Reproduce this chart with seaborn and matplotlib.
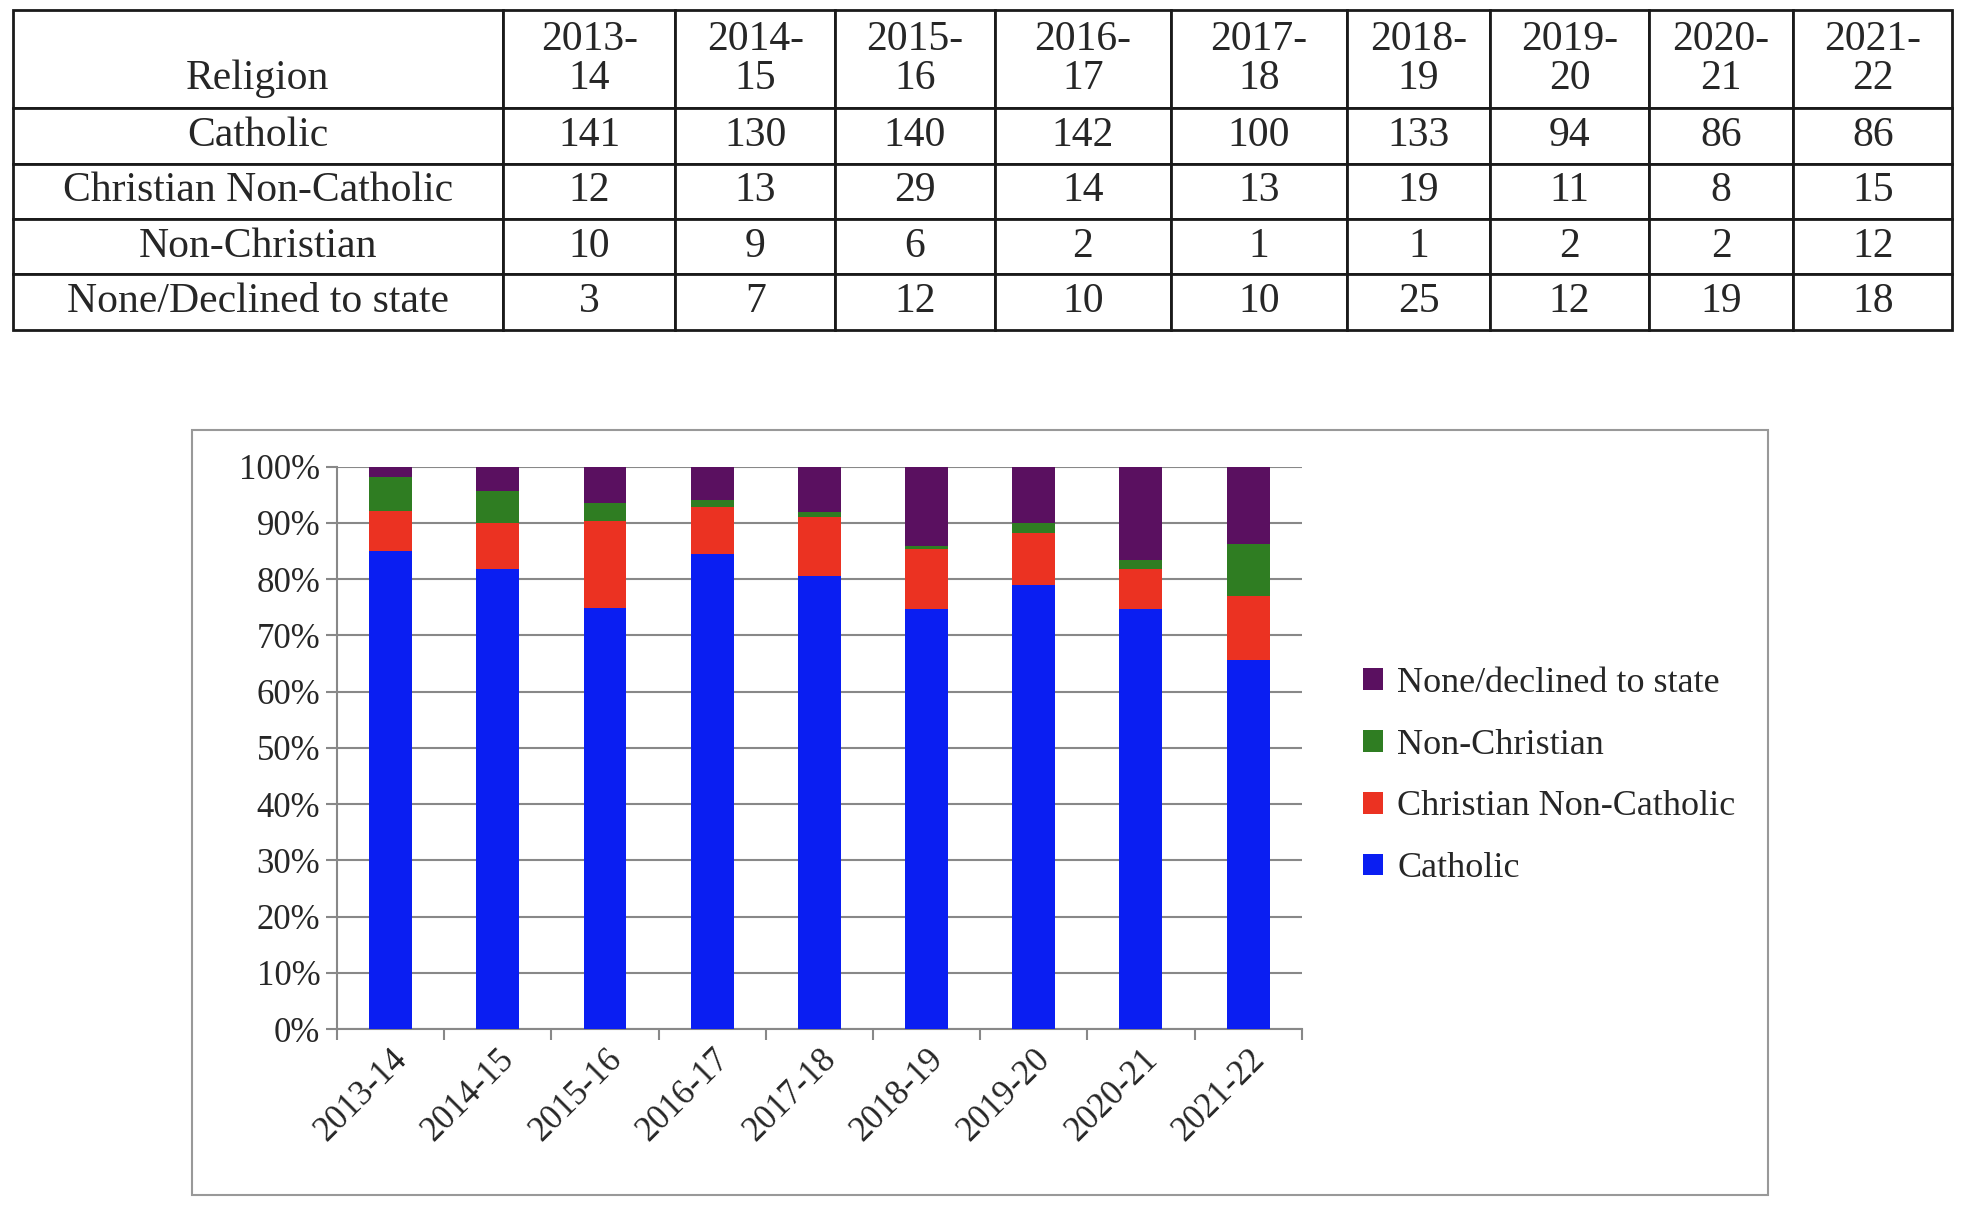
import numpy as np
import pandas as pd
import matplotlib.pyplot as plt
import seaborn as sns
from matplotlib.patches import Rectangle

years = ['2013-14', '2014-15', '2015-16', '2016-17', '2017-18', '2018-19', '2019-20', '2020-21', '2021-22']
catholic = [141, 130, 140, 142, 100, 133, 94, 86, 86]
christian_nc = [12, 13, 29, 14, 13, 19, 11, 8, 15]
non_christian = [10, 9, 6, 2, 1, 1, 2, 2, 12]
none_declined = [3, 7, 12, 10, 10, 25, 12, 19, 18]

row_names = ['Catholic', 'Christian Non-Catholic', 'Non-Christian', 'None/Declined to state']
legend_names = ['Catholic', 'Christian Non-Catholic', 'Non-Christian', 'None/declined to state']
colors = ['#0A1EF2', '#EB3222', '#2F7D22', '#5A1060']

sns.set_theme(style='white')
plt.rcParams['font.family'] = ['Liberation Serif', 'DejaVu Serif']

W, H = 1560, 965
fig = plt.figure(figsize=(19.62, 12.14), dpi=100)

# ---- table
tax = fig.add_axes([10 / W, 1 - 262 / H, 1542 / W, 254 / H])
tax.axis('off')
header = ['\nReligion'] + [y.replace('-', '-\n') for y in years]
body = [[n] + [str(v) for v in vals] for n, vals in
        zip(row_names, [catholic, christian_nc, non_christian, none_declined])]
edges = [10, 400, 537, 664, 791, 931, 1071, 1185, 1311, 1426, 1552]
widths = np.diff(edges) / 1542
tbl = tax.table(cellText=[header] + body, colWidths=widths, cellLoc='center', bbox=[0, 0, 1, 1])
tbl.auto_set_font_size(False)
row_h = [78 / 254] + [44 / 254] * 4
for (r, c), cell in tbl.get_celld().items():
    cell.set_height(row_h[r])
    cell.set_linewidth(2)
    cell.get_text().set_fontsize(30)
    cell.get_text().set_linespacing(1.0)
    if c == 0:
        cell._loc = 'left'
        cell.PAD = 0.035

# ---- chart frame
fig.patches.append(Rectangle((153 / W, 1 - 950 / H), 1253 / W, 608 / H,
                             transform=fig.transFigure, fill=False,
                             edgecolor='#999999', linewidth=1.5))

ax = fig.add_axes([268 / W, 1 - 818 / H, 767 / W, 447 / H])
counts = np.array([catholic, christian_nc, non_christian, none_declined], dtype=float)
pct = counts / counts.sum(axis=0) * 100
cum = np.cumsum(pct, axis=0)
for i in range(3, -1, -1):
    df = pd.DataFrame({'year': years, 'val': cum[i]})
    sns.barplot(data=df, x='year', y='val', color=colors[i], width=0.4,
                saturation=1, ax=ax, label=legend_names[i], zorder=3, linewidth=0)
ax.set_ylim(0, 100)
ax.set_xlim(-0.5, 8.5)
ax.set_yticks(np.arange(0, 101, 10))
ax.set_yticklabels([f'{v}%' for v in range(0, 101, 10)], fontsize=25)
ax.yaxis.grid(True, color='#888888', linewidth=1.5, zorder=0)
ax.set_xlabel('')
ax.set_ylabel('')
ax.set_xticks(np.arange(-0.5, 9, 1), minor=False)
ax.set_xticklabels([])
ax.set_xticks(np.arange(9), minor=True)
ax.set_xticklabels(years, minor=True, rotation=45, ha='right', rotation_mode='anchor', fontsize=25)
ax.tick_params(axis='x', which='major', length=8, width=1.5, color='#888888', direction='out', bottom=True)
ax.tick_params(axis='x', which='minor', length=0, pad=10)
ax.tick_params(axis='y', length=8, width=1.5, color='#888888', direction='out', left=True, pad=4)
for s in ['top', 'right']:
    ax.spines[s].set_visible(False)
for s in ['left', 'bottom']:
    ax.spines[s].set_color('#888888')
    ax.spines[s].set_linewidth(1.5)

h, l = ax.get_legend_handles_labels()
ax.legend(h, l, loc='center left', bbox_to_anchor=(1.03, 0.45), frameon=False,
          fontsize=26, handlelength=0.55, handleheight=0.55, labelspacing=0.8,
          handletextpad=0.4)

fig.savefig('out.png', dpi=100)
